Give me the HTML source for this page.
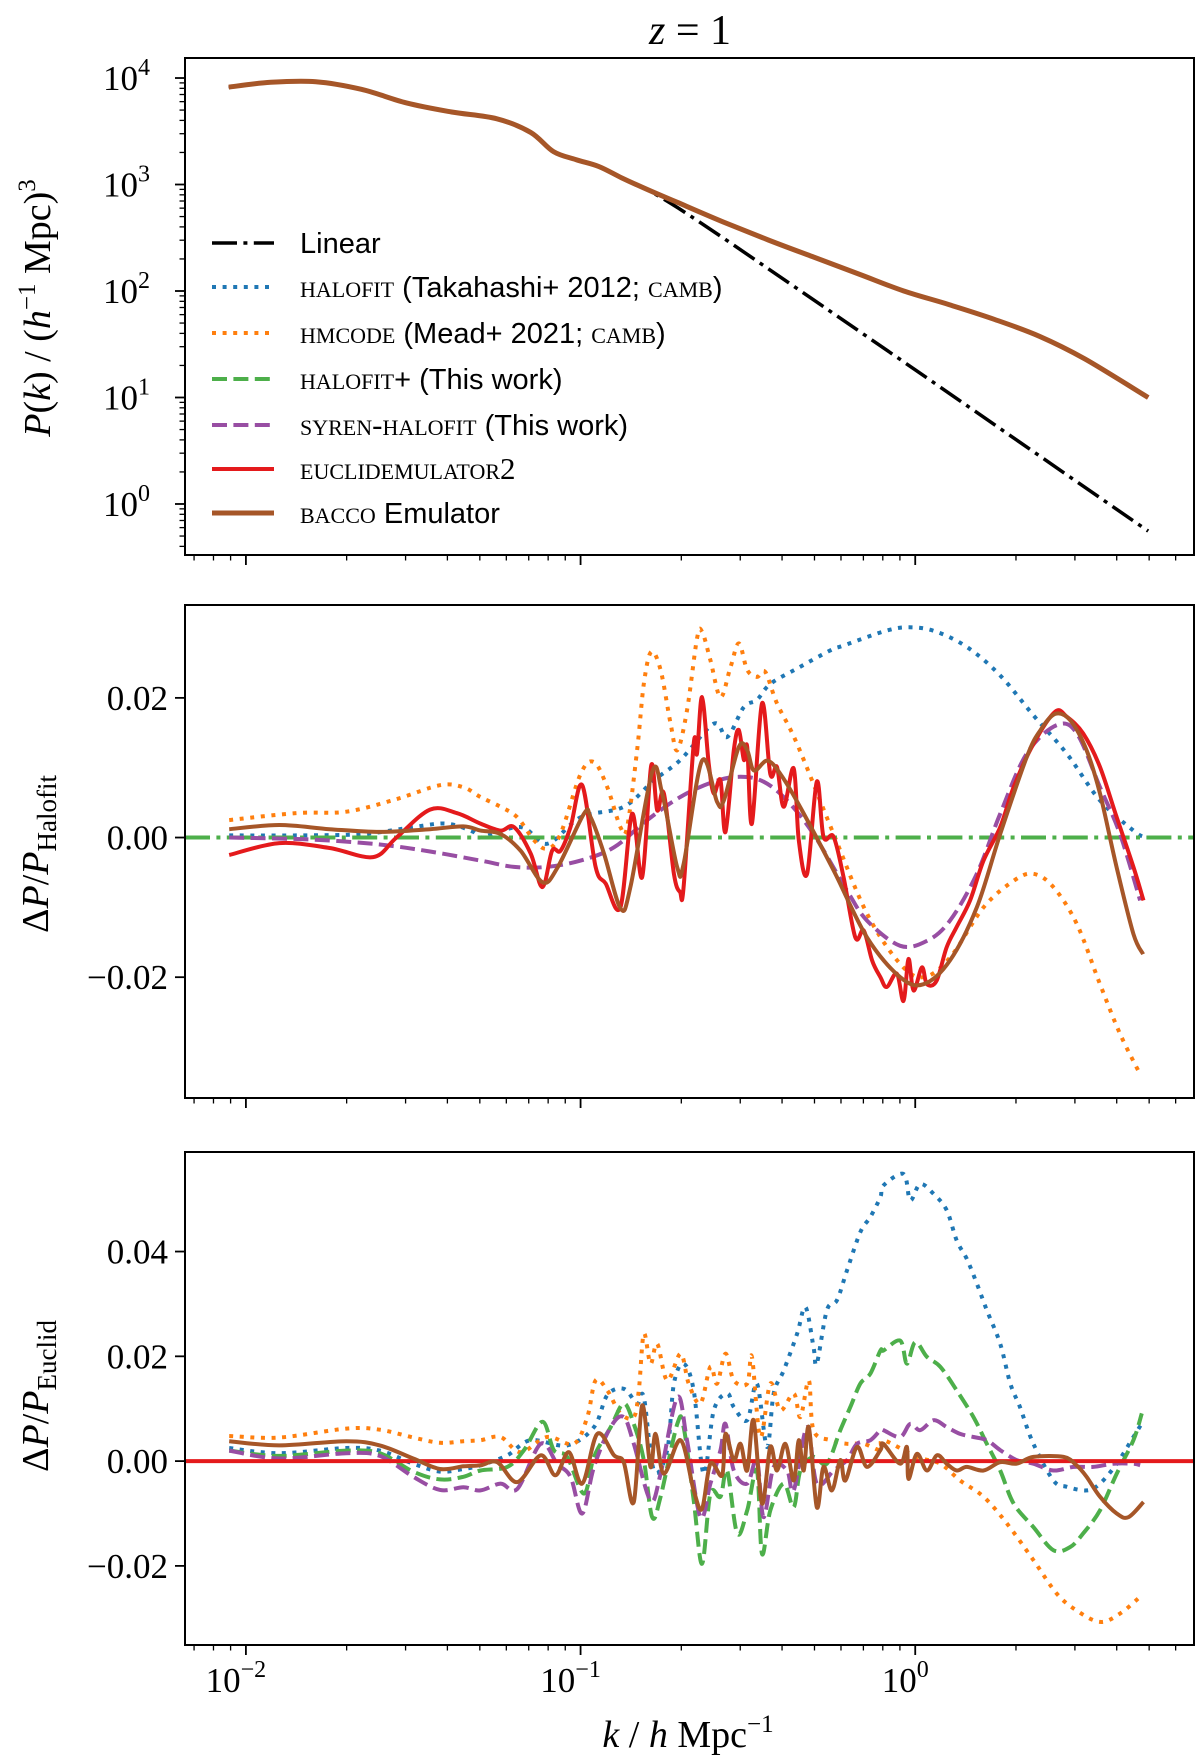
<!DOCTYPE html>
<html><head><meta charset="utf-8"><style>
html,body{margin:0;padding:0;background:#fff;}
svg{display:block;}
text{font-family:"Liberation Serif",serif;fill:#000;}
.sans{font-family:"Liberation Sans",sans-serif;}
</style></head><body>
<svg id="fig" width="1200" height="1762" viewBox="0 0 1200 1762" xmlns="http://www.w3.org/2000/svg">
<defs>
<clipPath id="c1"><rect x="185" y="58" width="1009" height="497"/></clipPath>
<clipPath id="c2"><rect x="185" y="605" width="1009" height="493"/></clipPath>
<clipPath id="c3"><rect x="185" y="1152" width="1009" height="493"/></clipPath>
</defs>
<text x="690" y="44" font-size="42" text-anchor="middle"><tspan font-style="italic">z</tspan> = 1</text>
<g id="g1"></g>
<g id="g2"></g>
<g id="g3"></g>
<text transform="translate(50,308) rotate(-90)" font-size="38" text-anchor="middle"><tspan font-style="italic">P</tspan>(<tspan font-style="italic">k</tspan>) / (<tspan font-style="italic">h</tspan><tspan font-size="25" dy="-15">−1</tspan><tspan dy="15"> Mpc)</tspan><tspan font-size="25" dy="-15">3</tspan></text>
<text transform="translate(48,854) rotate(-90)" font-size="38" text-anchor="middle">Δ<tspan font-style="italic">P</tspan>/<tspan font-style="italic">P</tspan><tspan font-size="27" dy="8">Halofit</tspan></text>
<text transform="translate(48,1396) rotate(-90)" font-size="38" text-anchor="middle">Δ<tspan font-style="italic">P</tspan>/<tspan font-style="italic">P</tspan><tspan font-size="27" dy="8">Euclid</tspan></text>
<text x="688" y="1747" font-size="38" text-anchor="middle"><tspan font-style="italic">k</tspan> / <tspan font-style="italic">h</tspan> Mpc<tspan font-size="25" dy="-15">−1</tspan></text>
</svg>
<script>
// ---- Panel 1 data (log10 k, log10 P) ----
const p1K = [-2.051,-1.926,-1.791,-1.655,-1.520,-1.385,-1.250,-1.149,-1.081,-1.014,-0.946,-0.878,-0.811,-0.709,-0.574,-0.439,-0.304,-0.169,-0.034,0.101,0.236,0.372,0.507,0.696];
const p1LogP = [3.915,3.960,3.965,3.894,3.766,3.681,3.617,3.489,3.309,3.234,3.170,3.064,2.968,2.830,2.649,2.479,2.319,2.160,2.000,1.872,1.734,1.574,1.362,1.000];
const linK = [-2.051,-1.926,-1.791,-1.655,-1.520,-1.385,-1.250,-1.149,-1.081,-1.014,-0.946,-0.878,-0.811,-0.709,-0.5,0.0,0.696];
const linLogP = [3.915,3.960,3.965,3.894,3.766,3.681,3.617,3.489,3.309,3.234,3.170,3.064,2.968,2.780,2.340,1.260,-0.255];

// ---- Panel 2 data (ΔP/P_Halofit) ----
const p2BlueK = [-2.05,-1.85,-1.65,-1.5,-1.4,-1.32,-1.299,-1.179,-1.100,-1.000,-0.871,-0.781,-0.702,-0.602,-0.562,-0.512,-0.473,-0.433,-0.353,-0.254,-0.214,-0.095,-0.025,0.055,0.154,0.254,0.353,0.453,0.552,0.652,0.682];
const p2BlueV = [0.0003,0.0003,0.0005,0.0015,0.002,0.0008,0.0000,0.0015,-0.0009,0.0029,0.0044,0.0082,0.0111,0.0163,0.0144,0.0187,0.0197,0.0220,0.0242,0.0268,0.0275,0.0295,0.0301,0.0296,0.0273,0.0232,0.0175,0.0120,0.0053,0.0010,0.0001];
const p2OrangeK = [-2.05,-1.85,-1.7,-1.55,-1.42,-1.35,-1.299,-1.239,-1.189,-1.139,-1.100,-1.060,-1.000,-0.960,-0.920,-0.881,-0.861,-0.831,-0.811,-0.789,-0.761,-0.731,-0.711,-0.682,-0.652,-0.637,-0.612,-0.582,-0.552,-0.527,-0.502,-0.473,-0.448,-0.413,-0.353,-0.244,-0.144,-0.045,0.025,0.104,0.204,0.294,0.353,0.413,0.483,0.552,0.612,0.672];
const p2OrangeV = [0.0025,0.0035,0.0037,0.0055,0.0075,0.0072,0.0058,0.0044,0.0029,-0.0004,-0.0016,0.0005,0.0091,0.0108,0.0072,0.0015,0.0015,0.0125,0.0220,0.0266,0.0240,0.0163,0.0125,0.0182,0.0285,0.0295,0.0254,0.0201,0.0244,0.0278,0.0240,0.0230,0.0237,0.0192,0.0134,0.0005,-0.0109,-0.0181,-0.0200,-0.0172,-0.0100,-0.0062,-0.0052,-0.0071,-0.0124,-0.0210,-0.0281,-0.0339];
const p2GreenK = [-2.182,0.833];
const p2GreenV = [0,0];
const p2PurpleK = [-2.05,-1.8,-1.6,-1.45,-1.299,-1.199,-1.100,-1.000,-0.900,-0.801,-0.702,-0.602,-0.522,-0.453,-0.383,-0.304,-0.204,-0.144,-0.045,0.035,0.104,0.184,0.254,0.333,0.423,0.483,0.552,0.612,0.672];
const p2PurpleV = [0.000,-0.0003,-0.001,-0.002,-0.0033,-0.0042,-0.0042,-0.0033,-0.0014,0.0025,0.0058,0.0080,0.0087,0.0080,0.0053,0.0005,-0.0076,-0.0119,-0.0155,-0.0148,-0.0119,-0.0052,0.0034,0.0120,0.0161,0.0149,0.0072,0.0005,-0.0090];
const p2RedK = [-2.05,-1.9,-1.75,-1.62,-1.55,-1.45,-1.37,-1.299,-1.239,-1.199,-1.149,-1.114,-1.085,-1.060,-1.030,-0.995,-0.955,-0.925,-0.881,-0.846,-0.816,-0.789,-0.771,-0.751,-0.721,-0.703,-0.692,-0.662,-0.652,-0.637,-0.617,-0.602,-0.582,-0.567,-0.542,-0.527,-0.512,-0.502,-0.488,-0.458,-0.433,-0.413,-0.393,-0.363,-0.348,-0.323,-0.294,-0.274,-0.244,-0.214,-0.179,-0.154,-0.129,-0.104,-0.085,-0.055,-0.035,-0.020,-0.005,0.020,0.035,0.064,0.094,0.124,0.164,0.204,0.254,0.294,0.353,0.418,0.453,0.502,0.552,0.602,0.652,0.682];
const p2RedV = [-0.0025,-0.0008,-0.0015,-0.0028,0.000,0.0040,0.0035,0.0020,0.0010,0.0015,-0.0023,-0.0071,-0.0019,-0.0019,0.0015,0.0075,-0.0042,-0.0066,-0.0100,0.0034,-0.0057,0.0103,0.0039,0.0063,-0.0052,-0.0078,-0.0071,0.0134,0.0120,0.0201,0.0106,0.0063,0.0082,0.0008,0.0125,0.0154,0.0111,0.0130,0.0020,0.0192,0.0091,0.0101,0.0044,0.0099,-0.0004,-0.0052,0.0080,0.0001,0.0001,-0.0057,-0.0143,-0.0133,-0.0176,-0.0200,-0.0214,-0.0195,-0.0234,-0.0174,-0.0219,-0.0186,-0.0210,-0.0205,-0.0157,-0.0128,-0.0090,-0.0033,0.0015,0.0072,0.0134,0.0180,0.0173,0.0149,0.0101,0.0029,-0.0042,-0.0090];
const p2BrownK = [-2.05,-1.9,-1.75,-1.6,-1.45,-1.35,-1.299,-1.239,-1.179,-1.114,-1.069,-0.990,-0.970,-0.930,-0.880,-0.851,-0.786,-0.756,-0.711,-0.692,-0.637,-0.592,-0.572,-0.527,-0.502,-0.482,-0.442,-0.403,-0.343,-0.244,-0.144,-0.045,0.025,0.104,0.184,0.254,0.333,0.373,0.418,0.463,0.512,0.552,0.602,0.652,0.681];
const p2BrownV = [0.0012,0.0018,0.0012,0.0008,0.0012,0.0016,0.0010,0.0005,-0.0019,-0.0064,-0.0043,0.0034,0.0029,-0.0023,-0.0102,-0.0071,0.0094,0.0063,-0.0043,-0.0038,0.0110,0.0051,0.0053,0.0130,0.0125,0.0096,0.0110,0.0091,0.0043,-0.0047,-0.0143,-0.0200,-0.0210,-0.0176,-0.0100,0.0005,0.0115,0.0153,0.0177,0.0168,0.0125,0.0063,-0.0043,-0.0138,-0.0167];

// ---- Panel 3 data (ΔP/P_Euclid) ----
const p3BlueK = [-2.05,-1.9,-1.7,-1.6,-1.5,-1.42,-1.35,-1.299,-1.219,-1.149,-1.040,-0.960,-0.920,-0.871,-0.831,-0.811,-0.781,-0.741,-0.721,-0.692,-0.662,-0.632,-0.602,-0.562,-0.542,-0.502,-0.473,-0.443,-0.423,-0.393,-0.353,-0.328,-0.304,-0.294,-0.264,-0.234,-0.204,-0.164,-0.134,-0.104,-0.095,-0.035,-0.015,0.015,0.055,0.094,0.124,0.154,0.184,0.214,0.254,0.284,0.313,0.353,0.413,0.453,0.512,0.552,0.602,0.652,0.677];
const p3BlueV = [0.0025,0.0015,0.0025,0.002,-0.0005,-0.002,-0.0015,-0.0008,0.0011,0.0040,0.0030,0.0065,0.0126,0.0138,0.0110,0.0122,-0.0018,0.0021,0.0148,0.0186,0.0135,-0.0024,0.0097,0.0129,0.0103,0.0078,0.0148,0.0027,0.0129,0.0173,0.0243,0.0294,0.0218,0.0186,0.0288,0.0307,0.0364,0.0437,0.0466,0.0504,0.0526,0.0548,0.0498,0.0529,0.0510,0.0479,0.0421,0.0386,0.0339,0.0288,0.0224,0.0148,0.0103,0.0033,-0.0037,-0.0049,-0.0056,-0.0043,-0.0005,0.0046,0.0072];
const p3OrangeK = [-2.05,-1.9,-1.7,-1.6,-1.5,-1.42,-1.35,-1.299,-1.239,-1.179,-1.100,-1.020,-0.980,-0.955,-0.920,-0.881,-0.841,-0.826,-0.811,-0.791,-0.771,-0.741,-0.701,-0.677,-0.642,-0.612,-0.592,-0.567,-0.542,-0.502,-0.488,-0.463,-0.433,-0.403,-0.363,-0.343,-0.318,-0.304,-0.254,-0.204,-0.154,-0.104,-0.095,0.005,0.075,0.134,0.204,0.274,0.353,0.423,0.482,0.552,0.612,0.672];
const p3OrangeV = [0.0048,0.0045,0.0062,0.006,0.0045,0.0035,0.0038,0.0040,0.0046,0.0017,0.0046,0.0033,0.0084,0.0154,0.0135,0.0091,0.0084,0.0135,0.0243,0.0186,0.0224,0.0154,0.0205,0.0148,0.0110,0.0180,0.0148,0.0205,0.0154,0.0148,0.0199,0.0046,0.0148,0.0097,0.0129,0.0084,0.0154,0.0059,0.0040,0.0033,0.0033,0.0021,0.0040,0.0008,-0.0005,-0.0037,-0.0068,-0.0119,-0.0189,-0.0253,-0.0285,-0.0307,-0.0291,-0.0259];
const p3GreenK = [-2.05,-1.9,-1.7,-1.6,-1.5,-1.42,-1.35,-1.299,-1.219,-1.169,-1.114,-1.080,-1.040,-0.990,-0.960,-0.910,-0.871,-0.841,-0.811,-0.786,-0.761,-0.711,-0.692,-0.662,-0.637,-0.612,-0.582,-0.562,-0.532,-0.502,-0.473,-0.458,-0.433,-0.393,-0.363,-0.343,-0.304,-0.264,-0.224,-0.194,-0.164,-0.134,-0.104,-0.095,-0.045,-0.025,0.000,0.035,0.075,0.124,0.174,0.214,0.254,0.294,0.353,0.413,0.463,0.502,0.552,0.602,0.652,0.677];
const p3GreenV = [0.002,0.001,0.002,0.0015,-0.002,-0.0035,-0.003,-0.0018,-0.0011,0.0021,0.0075,0.0021,0.0008,-0.0062,0.0008,0.0065,0.0110,0.0071,0.0002,-0.0107,-0.0068,0.0071,0.0065,-0.0075,-0.0196,-0.0062,-0.0068,-0.0018,-0.0138,-0.0094,-0.0018,-0.0177,-0.0094,-0.0043,-0.0088,-0.0018,0.0008,-0.0005,0.0059,0.0103,0.0148,0.0167,0.0211,0.0211,0.0230,0.0186,0.0227,0.0199,0.0180,0.0135,0.0084,0.0033,-0.0018,-0.0081,-0.0126,-0.0170,-0.0164,-0.0138,-0.0094,-0.0024,0.0040,0.0091];
const p3PurpleK = [-2.05,-1.9,-1.7,-1.6,-1.5,-1.42,-1.35,-1.299,-1.239,-1.189,-1.119,-1.070,-1.030,-0.995,-0.960,-0.910,-0.871,-0.841,-0.791,-0.761,-0.711,-0.682,-0.642,-0.612,-0.582,-0.567,-0.542,-0.502,-0.473,-0.453,-0.423,-0.383,-0.363,-0.323,-0.294,-0.244,-0.204,-0.174,-0.134,-0.104,-0.095,-0.045,-0.015,0.015,0.055,0.094,0.134,0.174,0.214,0.254,0.303,0.353,0.413,0.473,0.532,0.592,0.652,0.672];
const p3PurpleV = [0.002,0.0005,0.0015,0.001,-0.003,-0.0055,-0.005,-0.0056,-0.0043,-0.0053,0.0033,-0.0005,-0.0030,-0.0100,-0.0011,0.0065,0.0084,0.0033,-0.0075,-0.0024,0.0122,0.0040,-0.0107,-0.0043,0.0021,0.0071,-0.0018,-0.0043,0.0002,-0.0107,-0.0011,-0.0018,-0.0056,0.0065,-0.0043,-0.0018,0.0002,0.0033,0.0040,0.0059,0.0059,0.0046,0.0071,0.0059,0.0078,0.0065,0.0052,0.0046,0.0040,0.0021,0.0002,-0.0005,-0.0018,-0.0011,-0.0011,-0.0005,-0.0005,-0.0008];
const p3RedK = [-2.182,0.833];
const p3RedV = [0,0];
const p3BrownK = [-2.05,-1.9,-1.7,-1.6,-1.5,-1.42,-1.35,-1.299,-1.249,-1.189,-1.119,-1.075,-1.035,-0.995,-0.950,-0.900,-0.871,-0.841,-0.816,-0.791,-0.776,-0.751,-0.701,-0.662,-0.637,-0.612,-0.577,-0.567,-0.542,-0.522,-0.502,-0.483,-0.458,-0.433,-0.413,-0.388,-0.363,-0.348,-0.333,-0.318,-0.294,-0.274,-0.249,-0.224,-0.209,-0.174,-0.144,-0.104,-0.095,-0.045,-0.025,-0.020,0.005,0.035,0.065,0.094,0.124,0.154,0.204,0.254,0.303,0.353,0.443,0.482,0.512,0.552,0.602,0.637,0.682];
const p3BrownV = [0.0038,0.003,0.0038,0.003,0.0005,-0.0015,-0.001,-0.0008,-0.0002,-0.0040,0.0011,-0.0027,0.0017,-0.0043,0.0052,0.0011,-0.0002,-0.0078,0.0106,-0.0011,0.0052,-0.0024,0.0040,-0.0056,-0.0091,-0.0005,-0.0027,0.0052,0.0002,0.0033,-0.0018,0.0078,-0.0081,0.0027,-0.0018,0.0033,-0.0037,0.0040,-0.0018,0.0065,-0.0088,-0.0011,-0.0056,0.0002,-0.0037,0.0027,-0.0011,0.0021,0.0033,-0.0005,0.0027,-0.0034,0.0014,-0.0018,0.0011,-0.0005,-0.0018,-0.0011,-0.0018,-0.0002,-0.0005,0.0008,0.0008,-0.0008,-0.0030,-0.0068,-0.0100,-0.0107,-0.0078];

// tick label arrays
const p1YTicks = [0,1,2,3,4];
const p1YTickLabels = ["0","1","2","3","4"];
const p2YTicks = [-0.02,0,0.02];
const p2YTickLabels = ["−0.02","0.00","0.02"];
const p3YTicks = [-0.02,0,0.02,0.04];
const p3YTickLabels = ["−0.02","0.00","0.02","0.04"];
const xTickDecades = [-2,-1,0];
const xTickLabels = ["−2","−1","0"];

const NS="http://www.w3.org/2000/svg";
const X0=185,X1=1194,XMIN=-2.182,XMAX=0.833;
function xs(lk){return X0+(lk-XMIN)/(XMAX-XMIN)*(X1-X0);}
const panels=[
 {g:'g1',top:58,bot:555,min:-0.479,max:4.188,clip:'c1'},
 {g:'g2',top:605,bot:1098,min:-0.0373,max:0.0333,clip:'c2'},
 {g:'g3',top:1152,bot:1645,min:-0.0351,max:0.059,clip:'c3'}
];
function ys(p,v){return p.bot-(v-p.min)/(p.max-p.min)*(p.bot-p.top);}
function mk(tag,attrs,parent){const e=document.createElementNS(NS,tag);for(const k in attrs)e.setAttribute(k,attrs[k]);parent.appendChild(e);return e;}
const C={blue:'#1f77b4',orange:'#ff7f0e',green:'#4daf4a',purple:'#984ea3',red:'#e41a1c',brown:'#a65628',black:'#000'};
const DASH={dot:'4 6.6',dash:'15 6.4',dashdot:'25 6.4 4 6.4',solid:'none'};
function smoothPath(P){
 if(P.length<3){return 'M'+P.map(q=>q[0].toFixed(1)+' '+q[1].toFixed(1)).join('L');}
 let d='M'+P[0][0].toFixed(1)+' '+P[0][1].toFixed(1);
 for(let i=0;i<P.length-1;i++){
  const p0=P[Math.max(0,i-1)],p1=P[i],p2=P[i+1],p3=P[Math.min(P.length-1,i+2)];
  const c1x=p1[0]+(p2[0]-p0[0])/6,c1y=p1[1]+(p2[1]-p0[1])/6;
  const c2x=p2[0]-(p3[0]-p1[0])/6,c2y=p2[1]-(p3[1]-p1[1])/6;
  d+='C'+c1x.toFixed(1)+' '+c1y.toFixed(1)+' '+c2x.toFixed(1)+' '+c2y.toFixed(1)+' '+p2[0].toFixed(1)+' '+p2[1].toFixed(1);
 }
 return d;
}
function series(pi,K,V,color,dash,name,w){
 const p=panels[pi];const g=document.getElementById(p.g);
 const P=K.map((k,i)=>[xs(k),ys(p,V[i])]);
 const e=mk('path',{d:smoothPath(P),fill:'none',stroke:color,'stroke-width':w||4,'stroke-dasharray':DASH[dash],'stroke-linejoin':'round','clip-path':'url(#'+p.clip+')'},g);
 
 
}
// panel 1
series(0,p1K,p1LogP,C.blue,'dot','p1-halofit-line');
series(0,p1K,p1LogP,C.orange,'dot','p1-hmcode-line');
series(0,p1K,p1LogP,C.green,'dash','p1-halofit-plus-line');
series(0,p1K,p1LogP,C.purple,'dash','p1-syren-halofit-line');
series(0,p1K,p1LogP,C.red,'solid','p1-euclidemulator-line');
series(0,linK,linLogP,C.black,'dashdot','p1-linear-line',3.5);
series(0,p1K,p1LogP,C.brown,'solid','p1-bacco-line',5);
// panel 2
series(1,p2BlueK,p2BlueV,C.blue,'dot','p2-halofit-line');
series(1,p2OrangeK,p2OrangeV,C.orange,'dot','p2-hmcode-line');
series(1,p2GreenK,p2GreenV,C.green,'dashdot','p2-halofit-plus-line');
series(1,p2PurpleK,p2PurpleV,C.purple,'dash','p2-syren-halofit-line');
series(1,p2RedK,p2RedV,C.red,'solid','p2-euclidemulator-line');
series(1,p2BrownK,p2BrownV,C.brown,'solid','p2-bacco-line');
// panel 3
series(2,p3BlueK,p3BlueV,C.blue,'dot','p3-halofit-line');
series(2,p3OrangeK,p3OrangeV,C.orange,'dot','p3-hmcode-line');
series(2,p3GreenK,p3GreenV,C.green,'dash','p3-halofit-plus-line');
series(2,p3PurpleK,p3PurpleV,C.purple,'dash','p3-syren-halofit-line');
series(2,p3RedK,p3RedV,C.red,'solid','p3-euclidemulator-line');
series(2,p3BrownK,p3BrownV,C.brown,'solid','p3-bacco-line');

// axes frames & ticks
panels.forEach((p,pi)=>{
 const g=document.getElementById(p.g);
 const fr=mk('rect',{x:X0,y:p.top,width:X1-X0,height:p.bot-p.top,fill:'none',stroke:'#000','stroke-width':2},g);
 
 
 for(let d=-3;d<=0;d++){for(let m=1;m<=9;m++){const lk=d+Math.log10(m);if(lk<XMIN||lk>XMAX)continue;const x=xs(lk);
  const t=mk('line',{x1:x,x2:x,y1:p.bot,y2:p.bot+(m===1?10:5.5),stroke:'#000','stroke-width':m===1?1.8:1.3},g);
  
  }}
 const ticks=pi===0?p1YTicks:(pi===1?p2YTicks:p3YTicks);
 const labs=pi===0?p1YTickLabels:(pi===1?p2YTickLabels:p3YTickLabels);
 ticks.forEach((v,i)=>{const y=ys(p,v);
  const t=mk('line',{x1:X0-10,x2:X0,y1:y,y2:y,stroke:'#000','stroke-width':1.8},g);
  
  
  const tx=mk('text',{x:168,y:y+12,'font-size':35,'text-anchor':'end'},g);
  
  
  if(pi===0){tx.setAttribute('x',150);tx.textContent='10';const s=mk('tspan',{dy:-15,'font-size':24},tx);s.textContent=labs[i];}
  else tx.textContent=labs[i];
 });
 if(pi===0){for(let d=-1;d<=4;d++){for(let m=2;m<=9;m++){const v=d+Math.log10(m);if(v<p.min||v>p.max)continue;const y=ys(p,v);
  const t=mk('line',{x1:X0-5.5,x2:X0,y1:y,y2:y,stroke:'#000','stroke-width':1.3},g);
  
  }}}
});
const g3=document.getElementById('g3');
xTickDecades.forEach((d,i)=>{const x=xs(d);
 const tx=mk('text',{x:x-10,y:1692,'font-size':35,'text-anchor':'middle'},g3);
 
 
 tx.textContent='10';const s=mk('tspan',{dy:-15,'font-size':24},tx);s.textContent=xTickLabels[i];});

// legend
const legendLabels=[
 ['Linear',C.black,'dashdot',3.5,'legend-linear'],
 ['halofit (Takahashi+ 2012; camb)',C.blue,'dot',4,'legend-halofit'],
 ['hmcode (Mead+ 2021; camb)',C.orange,'dot',4,'legend-hmcode'],
 ['halofit+ (This work)',C.green,'dash',4,'legend-halofit-plus'],
 ['syren-halofit (This work)',C.purple,'dash',4,'legend-syren-halofit'],
 ['euclidemulator2',C.red,'solid',4,'legend-euclidemulator2'],
 ['bacco Emulator',C.brown,'solid',5,'legend-bacco']
];
const legY=[243,287,333,379,425,469,513];
const g1=document.getElementById('g1');
const lg=mk('g',{},g1);


legendLabels.forEach((L,i)=>{
 const y=legY[i];
 const ent=mk('g',{},lg);
 
 
 mk('line',{x1:212,x2:274,y1:y,y2:y,stroke:L[1],'stroke-width':L[3],'stroke-dasharray':DASH[L[2]]},ent);
 const t=mk('text',{x:300,y:y+10,'font-size':29},ent);
 const txt=L[0];
 if(i===0){t.setAttribute('class','sans');t.textContent=txt;}
 else{
  const m=txt.match(/^(\S+)(.*)$/);
  const sc=mk('tspan',{'font-variant':'small-caps','font-size':31},t);sc.textContent=m[1].replace('+','');
  let rest=(m[1].endsWith('+')?'+':'')+m[2];
  const parts=rest.split('camb');
  parts.forEach((pt,j)=>{const a=mk('tspan',{'font-family':'Liberation Sans, sans-serif'},t);a.textContent=pt;
   if(j<parts.length-1){const b=mk('tspan',{'font-variant':'small-caps','font-size':31},t);b.textContent='camb';}});
 }
});
</script>
</body></html>
